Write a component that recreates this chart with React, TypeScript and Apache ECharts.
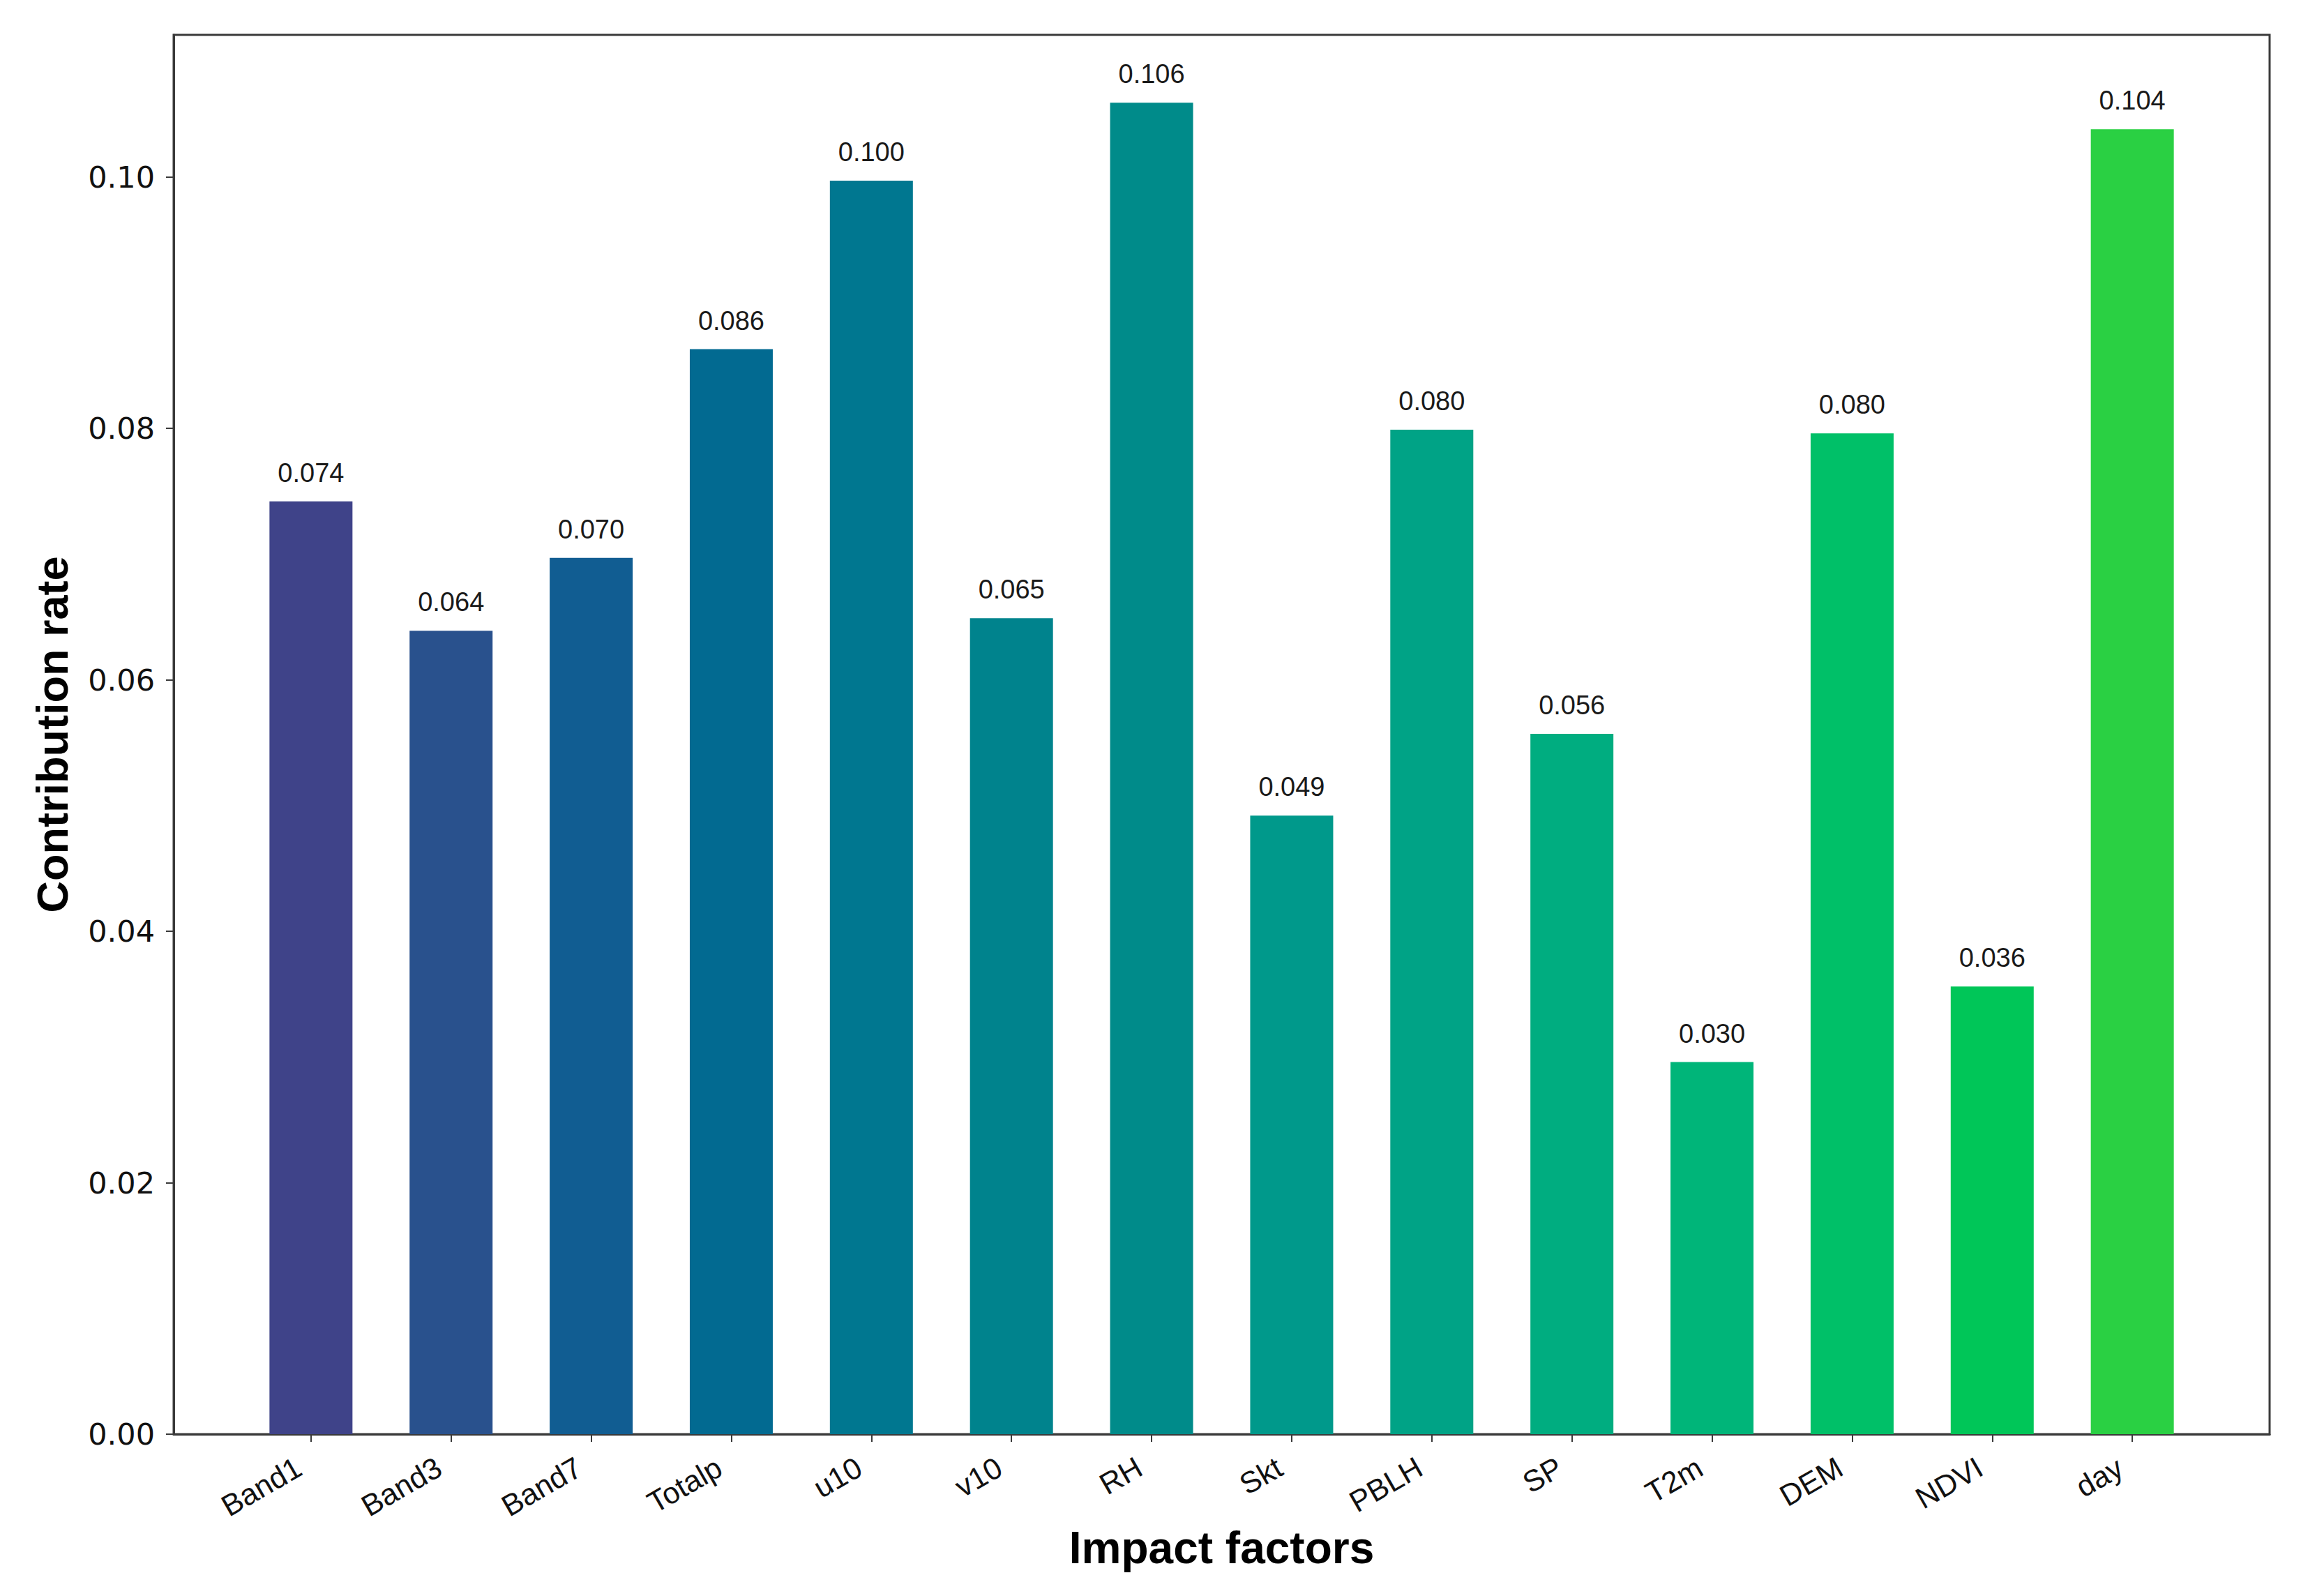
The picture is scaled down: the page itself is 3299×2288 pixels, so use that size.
import React, { useEffect, useRef } from "react";
import * as echarts from "echarts";

const categories = ["Band1", "Band3", "Band7", "Totalp", "u10", "v10", "RH", "Skt", "PBLH", "SP", "T2m", "DEM", "NDVI", "day"];
const contributions = [0.0742, 0.0639, 0.0697, 0.0863, 0.0997, 0.0649, 0.1059, 0.0492, 0.0799, 0.0557, 0.0296, 0.0796, 0.0356, 0.1038];
const barColors = ["#3F4389", "#29518D", "#115D92", "#026A91", "#007790", "#00838D", "#008B8A", "#00998B", "#00A386", "#00AD80", "#00B579", "#00C068", "#00C658", "#2AD043"];
const yTicks = [0, 0.02, 0.04, 0.06, 0.08, 0.1];
const xTickIndices = categories.map((_, i) => i);

export default function App() {
  const ref = useRef<HTMLDivElement>(null);
  useEffect(() => {
    if (!ref.current) return;
    const chart = echarts.init(ref.current, null, { renderer: "svg" });
    const axisColor = "#3a3a3a";
    chart.setOption({
      animation: false,
      backgroundColor: "#ffffff",
      grid: {
        left: 249,
        right: 45,
        top: 50,
        bottom: 232,
        show: true,
        borderColor: axisColor,
        borderWidth: 3,
        backgroundColor: "transparent",
      },
      xAxis: {
        type: "value",
        min: -0.98,
        max: 13.98,
        name: "Impact factors",
        nameLocation: "middle",
        nameGap: 130,
        nameTextStyle: { fontFamily: "Liberation Sans", fontWeight: "bold", fontSize: 64, color: "#000" },
        splitLine: { show: false },
        axisLine: { show: true, onZero: false, lineStyle: { color: axisColor, width: 3 } },
        axisTick: { show: true, customValues: xTickIndices, length: 11, lineStyle: { color: axisColor, width: 2 } },
        axisLabel: {
          customValues: xTickIndices,
          rotate: 30,
          margin: 34,
          padding: [0, 20, 0, 0],
          fontFamily: "Liberation Sans",
          fontSize: 43,
          color: "#111",
          formatter: (v: number) => categories[Math.round(v)] ?? "",
        },
      },
      yAxis: {
        type: "value",
        min: 0,
        max: 0.1113,
        name: "Contribution rate",
        nameLocation: "middle",
        nameRotate: 90,
        nameGap: 143,
        nameTextStyle: { fontFamily: "Liberation Sans", fontWeight: "bold", fontSize: 63, color: "#000" },
        splitLine: { show: false },
        axisLine: { show: true, onZero: false, lineStyle: { color: axisColor, width: 3 } },
        axisTick: { show: true, customValues: yTicks, length: 11, lineStyle: { color: axisColor, width: 2 } },
        axisLabel: {
          customValues: yTicks,
          margin: 27,
          fontFamily: "DejaVu Sans",
          fontSize: 43,
          color: "#111",
          formatter: (v: number) => v.toFixed(2),
        },
      },
      series: [
        {
          type: "bar",
          barWidth: 119,
          data: contributions.map((v, i) => ({
            value: [i, v],
            itemStyle: { color: barColors[i] },
          })),
          label: {
            show: true,
            position: "top",
            distance: 22,
            fontFamily: "Liberation Sans",
            fontSize: 38,
            color: "#1a1a1a",
            formatter: (p: any) => (p.value[1] as number).toFixed(3),
          },
        },
      ],
    });
    return () => chart.dispose();
  }, []);
  return (
    <div
      ref={ref}
      style={{ position: "absolute", left: 0, top: 0, width: "3299px", height: "2288px" }}
    />
  );
}
